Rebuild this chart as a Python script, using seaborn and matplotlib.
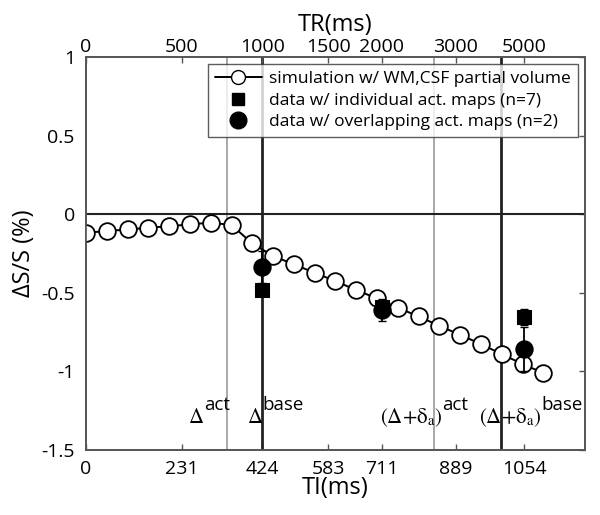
import numpy as np
import pandas as pd
import matplotlib
matplotlib.use("Agg")
import matplotlib.pyplot as plt
import seaborn as sns
from matplotlib.lines import Line2D

# simulation curve (TI in ms, signal change in %)
sim_ti = [0, 50, 100, 150, 200, 250, 300, 350, 400, 450, 500, 550,
          600, 650, 700, 750, 800, 850, 900, 950, 1000, 1050, 1100]
sim_ds = [-0.117, -0.106, -0.096, -0.085, -0.075, -0.064, -0.052, -0.068,
          -0.185, -0.265, -0.318, -0.372, -0.425, -0.482, -0.535, -0.594,
          -0.650, -0.710, -0.767, -0.826, -0.890, -0.953, -1.010]

# measured data
data_ti = [424, 711, 1054]
indiv_ds = [-0.48, -0.59, -0.655]
indiv_err = [0.03, 0.04, 0.05]
overlap_ds = [-0.335, -0.61, -0.86]
overlap_err = [0.10, 0.07, 0.14]

# axis ticks
ti_ticks = [0, 231, 424, 583, 711, 889, 1054]
tr_labels = ['0', '500', '1000', '1500', '2000', '3000', '5000']
y_ticks = [1, 0.5, 0, -0.5, -1, -1.5]

# reference lines
gray_lines = [340, 836]
black_lines = [424, 997]

sns.set_theme(style="white")
plt.rcParams['font.family'] = ['Open Sans', 'DejaVu Sans']
plt.rcParams['mathtext.fontset'] = 'stix'
plt.rcParams['axes.unicode_minus'] = False
plt.rcParams['text.color'] = 'black'
plt.rcParams['axes.labelcolor'] = 'black'
plt.rcParams['xtick.color'] = 'black'
plt.rcParams['ytick.color'] = 'black'

fig = plt.figure(figsize=(6.0, 5.15), dpi=100)
ax = fig.add_axes([0.1433, 0.1262, 0.975 - 0.1433, 0.8887 - 0.1262])

for x in gray_lines:
    ax.axvline(x, color='#9a9a9a', lw=1.2, zorder=1)
for x in black_lines:
    ax.axvline(x, color='#222222', lw=2.0, zorder=1)
ax.axhline(0, color='#222222', lw=1.5, zorder=1)

sim = pd.DataFrame({'TI': sim_ti, 'dS': sim_ds})
sns.lineplot(data=sim, x='TI', y='dS', ax=ax, color='black', lw=1.4,
             marker='o', markersize=12, markerfacecolor='white',
             markeredgecolor='black', markeredgewidth=1.3, zorder=3)

ax.errorbar(data_ti, indiv_ds, yerr=indiv_err, fmt='none', ecolor='black',
            elinewidth=1.3, capsize=3, zorder=4)
ax.errorbar(data_ti, overlap_ds, yerr=overlap_err, fmt='none', ecolor='black',
            elinewidth=1.3, capsize=3, zorder=4)
sns.scatterplot(x=data_ti, y=indiv_ds, ax=ax, marker='s', s=95,
                color='black', edgecolor='black', zorder=5)
sns.scatterplot(x=data_ti, y=overlap_ds, ax=ax, marker='o', s=150,
                color='black', edgecolor='black', zorder=5)

ax.set_xlim(0, 1200)
ax.set_ylim(-1.5, 1)
ax.set_xticks(ti_ticks)
ax.set_xticklabels([str(t) for t in ti_ticks])
ax.set_yticks(y_ticks)
ax.set_yticklabels(['1', '0.5', '0', '-0.5', '-1', '-1.5'])
ax.tick_params(direction='in', length=4, width=1, color='#555555',
               labelcolor='black', labelsize=14, right=True)
ax.tick_params(axis='x', pad=7)
ax.tick_params(axis='y', pad=8)
ax.set_xlabel('TI(ms)', fontsize=17, labelpad=-1)
ax.set_ylabel('ΔS/S (%)', fontsize=17, labelpad=4)
for s in ax.spines.values():
    s.set_color('#555555')
    s.set_linewidth(1.2)

top = ax.twiny()
top.set_xlim(ax.get_xlim())
top.set_xticks(ti_ticks)
top.set_xticklabels(tr_labels)
top.tick_params(direction='in', length=4, width=1, color='#555555',
                labelcolor='black', labelsize=14, pad=1)
top.set_xlabel('TR(ms)', fontsize=17, labelpad=5)
for s in top.spines.values():
    s.set_color('#555555')
    s.set_linewidth(1.2)

# annotations: main symbol + superscript
notes = [
    (r'$\Delta$', 'act', 284),
    (r'$\Delta$', 'base', 425),
    (r'$(\Delta{+}\mathrm{\delta}_{\mathrm{a}})$', 'act', 857),
    (r'$(\Delta{+}\mathrm{\delta}_{\mathrm{a}})$', 'base', 1096),
]
for main, sup, x in notes:
    ax.text(x, -1.33, main, ha='right', va='baseline', fontsize=15, zorder=6)
    ax.text(x, -1.245, sup, ha='left', va='baseline', fontsize=13.5, zorder=6)

handles = [
    Line2D([0], [0], color='black', lw=1.4, marker='o', markersize=10,
           markerfacecolor='white', markeredgecolor='black'),
    Line2D([0], [0], color='black', lw=0, marker='s', markersize=9),
    Line2D([0], [0], color='black', lw=0, marker='o', markersize=12),
]
labels = ['simulation w/ WM,CSF partial volume',
          'data w/ individual act. maps (n=7)',
          'data w/ overlapping act. maps (n=2)']
leg = ax.legend(handles, labels, loc='upper right', bbox_to_anchor=(0.985, 0.982),
                fontsize=12.5, frameon=True, fancybox=False, edgecolor='#333333',
                borderpad=0.4, labelspacing=0.3, handlelength=2.7,
                handletextpad=0.4, borderaxespad=0)
leg.get_frame().set_linewidth(1.0)
leg.set_zorder(10)

fig.savefig('out.png', dpi=100)
